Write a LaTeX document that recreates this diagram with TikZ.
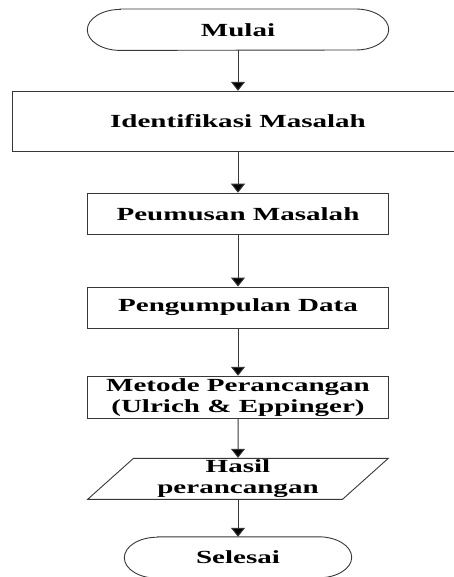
\documentclass[tikz,border=0pt]{standalone}
\usepackage{fontspec}
\setmainfont{Liberation Serif}[FakeStretch=1.57]
\usetikzlibrary{arrows.meta, shapes.geometric}
\definecolor{flowgray}{RGB}{55,55,55}
\newcommand{\flowfont}{\fontsize{18.5}{21}\selectfont\bfseries}
\tikzset{
  terminal/.style = {rectangle, minimum height=41pt, inner sep=0pt, font=\flowfont},
  process/.style  = {rectangle, draw=flowgray, line width=0.9pt, minimum width=301pt, minimum height=41pt, inner sep=2pt, align=center, font=\flowfont},
  io/.style       = {trapezium, trapezium left angle=47, trapezium right angle=133, trapezium stretches=true,
                     draw=flowgray, line width=0.9pt, minimum width=301pt, minimum height=41pt, inner sep=0pt, align=center, font=\flowfont},
  conn/.style     = {-{Triangle[width=14pt, length=9pt, fill=black]}, line width=1pt, draw=flowgray},
  outline/.style  = {draw=flowgray, line width=0.9pt},
}
% outline of a terminal node: straight top and bottom, elliptic ends
\newcommand{\termline}[1]{%
  \draw[outline] ([xshift=33pt]#1.north west) -- ([xshift=-33pt]#1.north east)
    arc[start angle=90, end angle=-90, x radius=33pt, y radius=20.5pt]
    -- ([xshift=33pt]#1.south west)
    arc[start angle=270, end angle=90, x radius=33pt, y radius=20.5pt] -- cycle;}

\begin{document}
\begin{tikzpicture}[x=1pt, y=-1pt]
    \useasboundingbox (0,0) rectangle (454,577);

    % ── Steps ───────────────────────────────────────────────────
    \node[terminal, minimum width=301pt] (start) at (238, 29.7) {Mulai};
    \node[process, minimum width=452pt, minimum height=60.5pt] (ident) at (238, 121.5) {Identifikasi Masalah};
    \node[process] (rumus)   at (238, 213.7) {Peumusan Masalah};
    \node[process] (data)    at (238, 307.5) {Pengumpulan Data};
    \node[process] (metode)  at (238, 397.2) {Metode Perancangan\\(Ulrich \& Eppinger)};
    \node[io]      (hasil)   at (238, 478.8) {Hasil\\perancangan};
    \node[terminal, minimum width=227pt] (stop) at (238, 557.5) {Selesai};
    \termline{start}
    \termline{stop}

    % ── Edges ───────────────────────────────────────────────────
    \draw[conn] (start) -- (ident);
    \draw[conn] (ident) -- (rumus);
    \draw[conn] (rumus) -- (data);
    \draw[conn] (data) -- (metode);
    \draw[conn] (metode) -- (hasil);
    \draw[conn] (hasil) -- (stop);
\end{tikzpicture}
\end{document}
